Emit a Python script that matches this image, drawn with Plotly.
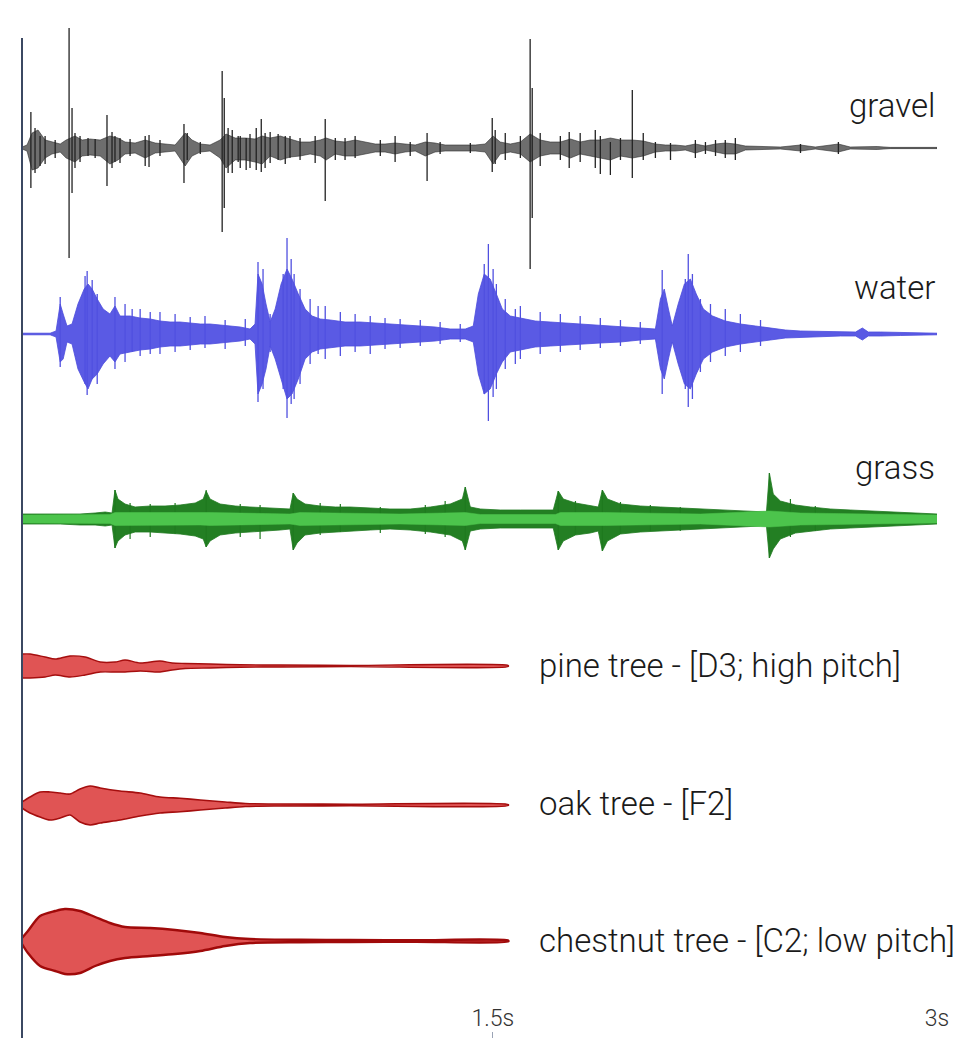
import plotly.graph_objects as go

# ---------------- data (time in seconds, amplitudes in arbitrary units) ----------------
GRAVEL_T = [-0.090, -0.073, -0.056, -0.036, -0.012, 0.011, 0.039, 0.059, 0.089, 0.113,
            0.140, 0.174, 0.207, 0.234, 0.258, 0.292, 0.326, 0.360, 0.393, 0.427,
            0.461, 0.484, 0.512, 0.545, 0.579, 0.599, 0.630, 0.664, 0.697, 0.721,
            0.748, 0.782, 0.815, 0.849, 0.883, 0.917, 0.937, 0.968, 1.001, 1.035,
            1.069, 1.103, 1.136, 1.170, 1.204, 1.238, 1.272, 1.305, 1.339, 1.373,
            1.407, 1.441, 1.474, 1.501, 1.525, 1.559, 1.593, 1.626, 1.660, 1.694,
            1.728, 1.762, 1.795, 1.829, 1.863, 1.897, 1.931, 1.971, 2.008, 2.049,
            2.083, 2.116, 2.150, 2.184, 2.218, 2.252, 2.285, 2.319, 2.353, 2.404,
            2.471, 2.539, 2.589, 2.667, 2.707, 2.798, 2.842, 3.000]
GRAVEL_UP = [1, 3, 15, 18, 8, 6, 4, 8, 12, 8,
             9, 8, 12, 10, 6, 5, 8, 5, 4, 3,
             15, 8, 4, 3, 8, 14, 10, 10, 9, 12,
             10, 12, 9, 6, 6, 8, 10, 7, 6, 8,
             6, 4, 4, 5, 4, 3, 6, 5, 3, 3,
             3, 3, 4, 12, 6, 4, 6, 14, 8, 6,
             6, 9, 6, 8, 8, 10, 8, 8, 7, 4,
             3, 3, 2, 4, 2, 4, 5, 4, 2, 1.5,
             1, 3, 1, 4, 1, 1.5, 0.6, 0.6]
GRAVEL_DN = [1, 3, 22, 20, 10, 6, 4, 10, 14, 8,
             7, 8, 16, 12, 6, 5, 10, 5, 4, 3,
             18, 8, 4, 3, 10, 20, 12, 12, 14, 16,
             8, 12, 9, 8, 6, 8, 12, 6, 8, 8,
             6, 4, 4, 6, 4, 3, 8, 4, 3, 3,
             3, 3, 4, 16, 6, 4, 6, 14, 8, 6,
             6, 10, 6, 8, 10, 12, 8, 10, 8, 4,
             3, 3, 2, 5, 2, 4, 6, 6, 2, 1.5,
             1, 3, 1, 4, 1, 1.5, 0.6, 0.6]
GRAVEL_SPIKE_T = [-0.060, -0.046, -0.029, 0.069, 0.079, 0.089, 0.106, 0.197, 0.224, 0.241,
                  0.339, 0.457, 0.468, 0.586, 0.593, 0.606, 0.647, 0.667, 0.718, 0.731,
                  0.799, 0.934, 0.968, 1.170, 1.278, 1.498, 1.508, 1.626, 1.633, 1.758,
                  1.897, 1.971, 2.008, 2.100, 2.184, 2.285, 2.319, 2.539, 2.667,
                  -0.012, 0.022, 0.133, 0.157, 0.214, 0.275, 0.326, 0.376, 0.512, 0.620,
                  0.640, 0.680, 0.701, 0.748, 0.775, 0.815, 0.849, 0.900, 1.001, 1.035,
                  1.120, 1.221, 1.322, 1.424, 1.542, 1.593, 1.660, 1.728, 1.795, 1.846,
                  1.863, 1.931, 2.049, 2.218, 2.252]
GRAVEL_SPIKE_UP = [36, 20, 12, 120, 40, 15, 12, 33, 12, 10,
                   13, 24, 15, 77, 50, 20, 12, 10, 29, 15,
                   12, 29, 10, 12, 15, 30, 18, 109, 60, 16,
                   6, 58, 15, 5, 8, 8, 10, 4, 6,
                   12, 8, 10, 9, 16, 9, 12, 8, 6, 18,
                   12, 14, 20, 16, 14, 12, 10, 12, 10, 12,
                   8, 6, 6, 5, 15, 12, 15, 12, 15, 18,
                   12, 10, 6, 6, 8]
GRAVEL_SPIKE_DN = [40, 25, 18, 110, 45, 20, 14, 38, 14, 15,
                   19, 35, 12, 84, 60, 25, 20, 22, 24, 20,
                   16, 53, 12, 14, 33, 24, 16, 121, 70, 20,
                   27, 30, 12, 12, 10, 10, 12, 5, 6,
                   16, 10, 8, 10, 20, 8, 18, 8, 6, 25,
                   14, 20, 22, 15, 12, 10, 12, 15, 12, 10,
                   8, 8, 6, 5, 12, 10, 18, 12, 14, 20,
                   26, 12, 10, 6, 8]

WATER_T = [-0.090, 0.005, 0.025, 0.039, 0.049, 0.062, 0.079, 0.099, 0.120, 0.133,
           0.147, 0.164, 0.184, 0.207, 0.224, 0.241, 0.275, 0.309, 0.343, 0.376,
           0.410, 0.444, 0.478, 0.512, 0.545, 0.579, 0.613, 0.647, 0.680, 0.697,
           0.707, 0.721, 0.734, 0.748, 0.765, 0.785, 0.805, 0.822, 0.843, 0.866,
           0.890, 0.917, 0.951, 1.001, 1.052, 1.103, 1.153, 1.204, 1.255, 1.305,
           1.356, 1.407, 1.434, 1.451, 1.471, 1.491, 1.512, 1.532, 1.559, 1.593,
           1.643, 1.694, 1.745, 1.795, 1.863, 1.931, 1.998, 2.049, 2.066, 2.079,
           2.093, 2.106, 2.126, 2.147, 2.167, 2.187, 2.211, 2.242, 2.285, 2.336,
           2.387, 2.437, 2.488, 2.539, 2.606, 2.674, 2.725, 2.748, 2.768, 2.809,
           2.876, 2.903, 3.000]
WATER_UP = [0.8, 0.8, 3, 30, 20, 8, 10, 30, 45, 50,
            45, 35, 25, 20, 28, 18, 18, 16, 15, 13,
            12, 12, 11, 10, 10, 9, 8, 7, 5, 10,
            60, 50, 30, 12, 25, 50, 65, 55, 40, 25,
            18, 15, 14, 12, 12, 11, 10, 9, 8, 7,
            5, 5, 8, 40, 60, 55, 40, 25, 18, 16,
            13, 12, 11, 10, 9, 8, 6, 5, 35, 45,
            25, 8, 30, 50, 55, 40, 25, 18, 13, 10,
            8, 6, 4, 3, 2.5, 2, 2, 6, 2, 2,
            1.5, 0.8, 0.8]
WATER_DN = [0.8, 0.8, 3, 28, 25, 8, 10, 35, 48, 55,
            45, 40, 30, 22, 28, 20, 18, 16, 15, 13,
            12, 12, 11, 10, 10, 9, 8, 7, 5, 10,
            60, 50, 35, 12, 25, 45, 65, 60, 45, 25,
            18, 15, 14, 12, 12, 11, 10, 9, 8, 7,
            5, 5, 8, 40, 60, 55, 40, 28, 18, 16,
            13, 12, 11, 10, 9, 8, 6, 5, 35, 45,
            25, 8, 30, 50, 55, 40, 25, 18, 13, 10,
            8, 6, 4, 3, 2.5, 2, 2, 6, 2, 2,
            1.5, 0.8, 0.8]
WATER_SPIKE_T = [0.039, 0.123, 0.130, 0.147, 0.164, 0.224, 0.282, 0.343, 0.707, 0.724,
                 0.805, 0.792, 0.819, 0.829, 0.910, 1.485, 1.471, 1.501, 1.512, 1.576,
                 2.072, 2.160, 2.174, 2.150,
                 0.258, 0.309, 0.376, 0.427, 0.478, 0.528, 0.596, 0.664, 0.748, 0.849,
                 0.883, 0.934, 0.985, 1.035, 1.086, 1.136, 1.187, 1.255, 1.322, 1.390,
                 1.542, 1.593, 1.660, 1.728, 1.795, 1.863, 1.931, 1.998, 2.201, 2.235,
                 2.285, 2.336, 2.404]
WATER_SPIKE_UP = [37, 58, 63, 54, 40, 37, 25, 22, 72, 65,
                  96, 60, 75, 60, 28, 90, 70, 65, 50, 25,
                  64, 80, 60, 55,
                  30, 25, 22, 20, 17, 18, 14, 15, 20, 45,
                  35, 28, 22, 20, 18, 16, 15, 14, 12, 10,
                  35, 28, 22, 20, 18, 16, 14, 12, 35, 30,
                  25, 20, 14]
WATER_SPIKE_DN = [33, 50, 61, 45, 50, 35, 18, 20, 68, 55,
                  84, 55, 70, 65, 20, 87, 60, 63, 55, 30,
                  60, 73, 65, 55,
                  28, 22, 20, 18, 16, 14, 15, 12, 18, 50,
                  30, 25, 22, 18, 20, 15, 14, 12, 10, 8,
                  35, 25, 20, 18, 16, 14, 12, 10, 38, 28,
                  22, 18, 12]

GRASS_T = [-0.090, -0.029, 0.039, 0.106, 0.157, 0.191, 0.214, 0.224, 0.234, 0.258,
           0.292, 0.343, 0.393, 0.444, 0.495, 0.522, 0.532, 0.545, 0.579, 0.630,
           0.680, 0.731, 0.782, 0.815, 0.826, 0.839, 0.866, 0.917, 0.968, 1.018,
           1.086, 1.153, 1.221, 1.289, 1.356, 1.397, 1.407, 1.424, 1.458, 1.525,
           1.593, 1.660, 1.704, 1.721, 1.738, 1.779, 1.829, 1.856, 1.870, 1.887,
           1.931, 1.998, 2.066, 2.133, 2.201, 2.269, 2.336, 2.404, 2.424, 2.434,
           2.447, 2.471, 2.522, 2.573, 2.640, 2.707, 2.775, 2.842, 2.910, 3.000]
GRASS_UP = [5, 5, 5, 5, 6, 7, 6, 29, 20, 15,
            12, 13, 13, 14, 16, 20, 28, 20, 15, 13,
            12, 11, 10, 10, 26, 20, 15, 13, 12, 12,
            11, 10, 10, 12, 15, 20, 32, 12, 10, 9,
            9, 9, 9, 28, 20, 16, 13, 12, 29, 20,
            15, 13, 12, 11, 10, 9, 8, 7, 7, 46,
            25, 18, 14, 12, 10, 9, 8, 7, 6, 5]
GRASS_DN = [5, 5, 5, 6, 6, 7, 6, 29, 22, 16,
            13, 13, 14, 15, 17, 20, 28, 22, 16, 14,
            13, 12, 11, 10, 31, 24, 16, 14, 13, 12,
            11, 10, 11, 13, 16, 22, 31, 12, 10, 9,
            9, 9, 9, 31, 22, 16, 14, 12, 32, 22,
            15, 13, 12, 11, 10, 9, 8, 7, 7, 39,
            30, 20, 14, 12, 10, 9, 8, 7, 6, 5]
GRASS_CORE_T = [-0.090, 0.207, 0.224, 0.512, 0.545, 0.815, 0.849, 1.187, 1.407, 1.458,
                1.711, 1.728, 1.880, 2.201, 2.434, 2.539, 2.876, 3.000]
GRASS_CORE = [4, 4.5, 6.5, 6, 6.5, 5, 6.5, 5, 6.5, 4.5,
              4.5, 6.5, 6.5, 5, 8, 6, 4.5, 4]
GRASS_SPIKE_T = [0.224, 0.532, 0.826, 1.407, 1.721, 1.870, 2.434, 0.275, 0.343, 0.427,
                 0.647, 0.714, 0.917, 0.985, 1.120, 1.272, 1.339, 1.779, 1.931, 2.032,
                 2.133, 2.505, 2.589]
GRASS_SPIKE_UP = [29, 29, 26, 32, 28, 29, 46, 16, 15, 16,
                  15, 14, 16, 15, 12, 14, 18, 18, 17, 14,
                  12, 20, 13]
GRASS_SPIKE_DN = [29, 28, 31, 31, 31, 32, 39, 20, 18, 15,
                  18, 20, 16, 13, 14, 15, 18, 16, 15, 12,
                  12, 18, 12]

PINE_T = [-0.090, -0.063, -0.012, 0.022, 0.072, 0.123, 0.174, 0.224, 0.258, 0.309,
          0.376, 0.417, 0.461, 0.545, 0.647, 0.782, 1.018, 1.552]
PINE_UP = [12, 12, 9, 7, 10, 9, 4, 4, 6, 3, 5, 3, 2.5, 2, 1.2, 1, 0.6, 0.5]
PINE_DN = [12, 12, 11, 9, 11, 9, 6, 6, 6, 5, 6, 4, 2.5, 2, 1.2, 1, 0.6, 0.5]

OAK_T = [-0.090, -0.063, -0.029, 0.005, 0.039, 0.072, 0.106, 0.140, 0.174, 0.241,
         0.309, 0.376, 0.444, 0.512, 0.596, 0.664, 0.782, 1.018, 1.552]
OAK_UP = [3, 8, 13, 13, 12, 11, 16, 19, 17, 14, 12, 8, 6.7, 5, 3, 1.5, 1, 0.8, 0.5]
OAK_DN = [3, 8, 12, 15, 13, 10, 17, 20, 18, 15, 11, 8, 6.7, 5, 3, 1.5, 1, 0.8, 0.5]

CHESTNUT_T = [-0.090, -0.070, -0.029, 0.022, 0.055, 0.106, 0.157, 0.207, 0.258, 0.343,
              0.427, 0.512, 0.596, 0.680, 0.849, 1.018, 1.238, 1.552]
CHESTNUT_UP = [3, 10, 25, 30, 32, 30, 24, 18, 14, 13, 11, 8, 4, 2, 1.2, 1, 0.8, 0.5]
CHESTNUT_DN = [3, 12, 25, 30, 33, 32, 25, 20, 17, 15, 13, 10, 5, 2, 1.2, 1, 0.8, 0.5]

LABELS = ["gravel", "water", "grass",
          "pine tree - [D3; high pitch]", "oak tree - [F2]", "chestnut tree - [C2; low pitch]"]
TICK_VALS = [1.5, 3]
TICK_TEXT = ["1.5s", "3s"]

# ---------------- layout constants ----------------
LANES = {"gravel": 890, "water": 704, "grass": 519, "pine": 372, "oak": 233, "chestnut": 97}
FONT = "Roboto, 'Open Sans', sans-serif"

fig = go.Figure()


def band(t, up, dn, c, fill, line, lw, shape="linear"):
    xs = list(t) + list(t[::-1])
    ys = [c + u for u in up] + [c - d for d in dn[::-1]]
    fig.add_trace(go.Scatter(x=xs, y=ys, mode="lines", fill="toself", fillcolor=fill,
                             line=dict(color=line, width=lw, shape=shape, smoothing=0.8),
                             hoverinfo="skip", showlegend=False))


def spikes(t, up, dn, c, color, lw):
    xs, ys = [], []
    for ti, u, d in zip(t, up, dn):
        xs += [ti, ti, None]
        ys += [c + u, c - d, None]
    fig.add_trace(go.Scatter(x=xs, y=ys, mode="lines", line=dict(color=color, width=lw),
                             hoverinfo="skip", showlegend=False, cliponaxis=False))


def baseline(t0, t1, c, color):
    fig.add_trace(go.Scatter(x=[t0, t1], y=[c, c], mode="lines",
                             line=dict(color=color, width=1), hoverinfo="skip",
                             showlegend=False))


# gravel
baseline(GRAVEL_T[0], GRAVEL_T[-1], LANES["gravel"], "#555555")
band(GRAVEL_T, GRAVEL_UP, GRAVEL_DN, LANES["gravel"], "#6e6e6e", "#2b2b2b", 0.6)
spikes(GRAVEL_SPIKE_T, GRAVEL_SPIKE_UP, GRAVEL_SPIKE_DN, LANES["gravel"], "#222222", 1.3)

# water
baseline(WATER_T[0], WATER_T[-1], LANES["water"], "#8a8af0")
band(WATER_T, WATER_UP, WATER_DN, LANES["water"], "#5a5ae4", "#4b4bdc", 0.8)
spikes(WATER_SPIKE_T, WATER_SPIKE_UP, WATER_SPIKE_DN, LANES["water"], "#5050e0", 1.3)

# grass
band(GRASS_T, GRASS_UP, GRASS_DN, LANES["grass"], "#237f23", "#1f7a1f", 0.8)
spikes(GRASS_SPIKE_T, GRASS_SPIKE_UP, GRASS_SPIKE_DN, LANES["grass"], "#1f7a1f", 1.2)
band(GRASS_CORE_T, GRASS_CORE, GRASS_CORE, LANES["grass"], "#4cc44c", "#4cc44c", 0.5)

# trees
band(PINE_T, PINE_UP, PINE_DN, LANES["pine"], "#e05454", "#a50e0e", 1.4, "spline")
band(OAK_T, OAK_UP, OAK_DN, LANES["oak"], "#e05454", "#a50e0e", 1.6, "spline")
band(CHESTNUT_T, CHESTNUT_UP, CHESTNUT_DN, LANES["chestnut"], "#e05454", "#a00a0a", 2.4, "spline")

# labels
label_pos = [
    (3.0, 933, "right"), (3.0, 751, "right"), (3.0, 571, "right"),
    (1.650, 373, "left"), (1.650, 235, "left"), (1.650, 98, "left"),
]
for text, (x, y, anchor) in zip(LABELS, label_pos):
    fig.add_annotation(x=x, y=y, xref="x", yref="y", text=text, showarrow=False,
                       xanchor=anchor, yanchor="middle",
                       font=dict(family=FONT, size=33, color="#1a1a1a", weight=300))

# vertical axis line
fig.add_shape(type="line", xref="paper", yref="y", x0=0, x1=0, y0=0, y1=1000,
              line=dict(color="#3b4862", width=2))

# the page body has an 8px margin; the figure is sized so that the plot sits where the reference's does
fig.update_layout(
    width=954, height=1030,
    margin=dict(l=14, r=25, t=12, b=0),
    paper_bgcolor="white", plot_bgcolor="white",
    xaxis=dict(range=[-0.09, 3.0], showgrid=False, zeroline=False, showline=False,
               tickvals=TICK_VALS, ticktext=TICK_TEXT, ticks="inside", ticklen=6,
               tickcolor="#9aa3b5", tickwidth=1, ticklabelposition="inside",
               ticklabelstandoff=3, ticklabeloverflow="allow",
               tickfont=dict(family=FONT, size=23, color="#333333", weight=300)),
    yaxis=dict(range=[0, 1018], showgrid=False, zeroline=False, showline=False,
               showticklabels=False, ticks=""),
    showlegend=False,
)

fig.write_html("out.html")
